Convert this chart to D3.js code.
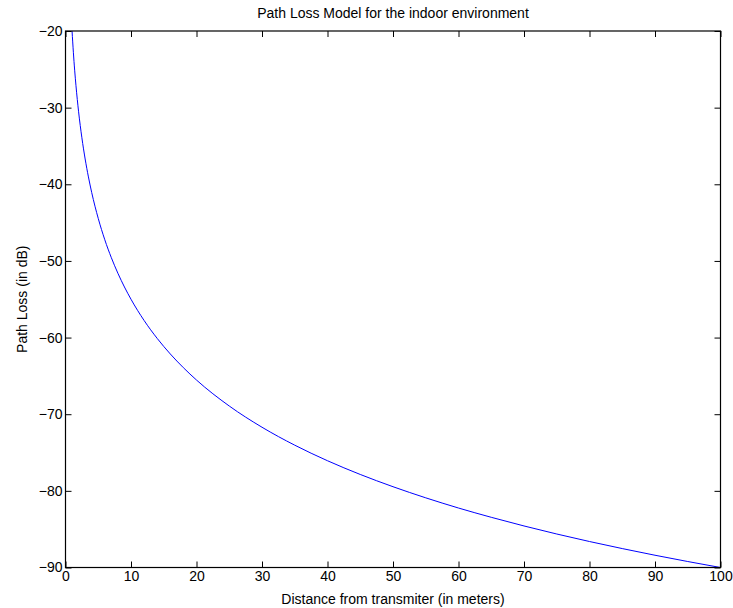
<!DOCTYPE html>
<html><head><meta charset="utf-8">
<script src="https://cdn.jsdelivr.net/npm/d3@7"></script>
<style>
body{margin:0;background:#fff;}
text{font-family:"Liberation Sans",Arial,Helvetica,sans-serif;fill:#000;}
</style></head>
<body><svg id="c" width="733" height="608"></svg>
<script>
const distance = [1,1.2,1.4,1.6,1.8,2,2.5,3,3.5,4,4.5,5,6,7,8,9,10,12,14,16,18,20,25,30,35,40,45,50,55,60,65,70,75,80,85,90,95,100];
const pathLoss = [-20,-22.77,-25.11,-27.14,-28.93,-30.54,-33.93,-36.70,-39.04,-41.07,-42.86,-44.46,-47.24,-49.58,-51.61,-53.40,-55,-57.77,-60.11,-62.14,-63.93,-65.54,-68.93,-71.70,-74.04,-76.07,-77.86,-79.46,-80.91,-82.24,-83.45,-84.58,-85.63,-86.61,-87.53,-88.40,-89.22,-90];
const xTicks = [0,10,20,30,40,50,60,70,80,90,100];
const yTicks = [-90,-80,-70,-60,-50,-40,-30,-20];
const titleText = "Path Loss Model for the indoor environment";
const xLabel = "Distance from transmiter (in meters)";
const yLabel = "Path Loss (in dB)";

const L=65.5, R=720.5, T=31, B=567.5;
const FS = "14px";
const svg = d3.select("#c");
const x = d3.scaleLinear().domain([0,100]).range([L,R]);
const y = d3.scaleLinear().domain([-90,-20]).range([B,T]);
const tl = 6;

svg.append("defs").append("clipPath").attr("id","cp").append("rect")
  .attr("x",L).attr("y",T).attr("width",R-L).attr("height",B-T);

const line = d3.line().x((d,i)=>x(distance[i])).y(d=>y(d)).curve(d3.curveMonotoneX);
svg.append("path").datum(pathLoss).attr("d",line).attr("fill","none")
  .attr("stroke","#0000ff").attr("stroke-width",1).attr("clip-path","url(#cp)");

const axB = d3.axisBottom(x).tickValues(xTicks).tickSize(-tl).tickPadding(4).tickFormat(d3.format("d"));
const axT = d3.axisTop(x).tickValues(xTicks).tickSize(-tl).tickFormat("");
const axL = d3.axisLeft(y).tickValues(yTicks).tickSize(-tl).tickPadding(3).tickFormat(d=>d<0?"\u2212"+Math.abs(d):d);
const axR = d3.axisRight(y).tickValues(yTicks).tickSize(-tl).tickFormat("");
function style(g){g.select(".domain").remove();g.selectAll(".tick line").attr("stroke","#000");
  g.selectAll("text").style("font-size",FS).attr("fill","#000");}
svg.append("g").attr("transform",`translate(0,${B})`).call(axB).call(style);
svg.append("g").attr("transform",`translate(0,${T})`).call(axT).call(style);
svg.append("g").attr("transform",`translate(${L},0)`).call(axL).call(style);
svg.append("g").attr("transform",`translate(${R},0)`).call(axR).call(style);
svg.append("rect").attr("x",L).attr("y",T).attr("width",R-L).attr("height",B-T)
  .attr("fill","none").attr("stroke","#000").attr("stroke-width",1.2);

svg.append("text").attr("x",(L+R)/2).attr("y",18).attr("text-anchor","middle")
  .style("font-size",FS).text(titleText);
svg.append("text").attr("x",(L+R)/2).attr("y",604).attr("text-anchor","middle")
  .style("font-size",FS).text(xLabel);
svg.append("text").attr("transform",`translate(27,${(T+B)/2}) rotate(-90)`).attr("text-anchor","middle")
  .style("font-size",FS).text(yLabel);
</script></body></html>
